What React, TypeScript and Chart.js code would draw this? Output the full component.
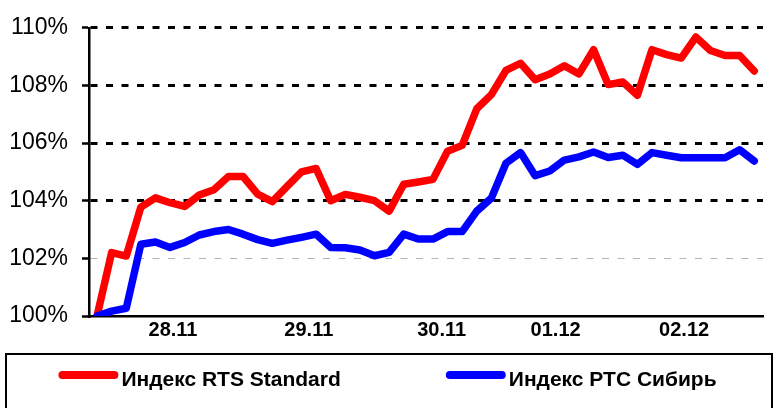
import { useEffect, useRef } from "react";
import { Chart, registerables } from "chart.js";

Chart.register(...registerables);

const FONT = '"Liberation Sans", Arial, sans-serif';

const seriesNames = ["Индекс RTS Standard", "Индекс РТС Сибирь"];
const seriesColors = ["#ff0000", "#0000ff"];

const dateLabels = ["28.11", "29.11", "30.11", "01.12", "02.12"];
const dateLabelPositions = [5.2, 14.5, 23.6, 31.4, 40.2];

const rtsStandard = [
  100.0, 102.2, 102.08, 103.78, 104.1, 103.93, 103.8, 104.2, 104.38, 104.84,
  104.84, 104.23, 103.97, 104.49, 105.0, 105.12, 104.0, 104.22, 104.12, 104.0,
  103.64, 104.57, 104.65, 104.74, 105.72, 105.92, 107.19, 107.68, 108.52, 108.77,
  108.2, 108.4, 108.68, 108.4, 109.24, 108.03, 108.12, 107.66, 109.24, 109.07,
  108.95, 109.68, 109.21, 109.04, 109.04, 108.5,
];

const rtsSiberia = [
  100.0, 100.17, 100.27, 102.49, 102.57, 102.38, 102.55, 102.81, 102.93, 103.0,
  102.84, 102.65, 102.52, 102.63, 102.73, 102.84, 102.38, 102.37, 102.29, 102.09,
  102.21, 102.84, 102.67, 102.67, 102.93, 102.93, 103.64, 104.09, 105.3, 105.67,
  104.87, 105.03, 105.41, 105.52, 105.69, 105.5, 105.58, 105.26, 105.67, 105.58,
  105.49, 105.49, 105.49, 105.49, 105.77, 105.38,
];

const yMin = 100;
const yMax = 110;
const yStep = 2;

const boxLegend = {
  id: "boxLegend",
  afterDraw(chart: any) {
    const ctx = chart.ctx;
    ctx.save();
    ctx.lineWidth = 2;
    ctx.strokeStyle = "#000";
    ctx.strokeRect(6, 354, 766, 80);
    ctx.font = `bold 21px ${FONT}`;
    const sample = 60;
    const gap = 3;
    const between = 105;
    const items = chart.data.datasets.map((ds: any) => ({
      label: ds.label,
      color: ds.borderColor,
      w: sample + gap + ctx.measureText(ds.label).width,
    }));
    const total =
      items.reduce((s: number, it: any) => s + it.w, 0) + between * (items.length - 1);
    let x = (chart.width - total) / 2;
    const yLine = 375;
    const yText = 380;
    items.forEach((it: any) => {
      ctx.strokeStyle = it.color;
      ctx.lineWidth = 8;
      ctx.lineCap = "round";
      ctx.beginPath();
      ctx.moveTo(x + 4, yLine);
      ctx.lineTo(x + sample - 4, yLine);
      ctx.stroke();
      ctx.fillStyle = "#000";
      ctx.textBaseline = "middle";
      ctx.textAlign = "left";
      ctx.fillText(it.label, x + sample + gap, yText);
      x += it.w + between;
    });
    ctx.restore();
  },
};

export default function App() {
  const ref = useRef<HTMLCanvasElement | null>(null);

  useEffect(() => {
    if (!ref.current) return;
    const series = [rtsStandard, rtsSiberia];
    const chart = new Chart(ref.current, {
      type: "line",
      data: {
        datasets: series.map((vals, k) => ({
          label: seriesNames[k],
          data: vals.map((v, i) => ({ x: i, y: v })),
          borderColor: seriesColors[k],
          backgroundColor: seriesColors[k],
          borderWidth: 7.5,
          pointRadius: 0,
          tension: 0,
          borderJoinStyle: "round" as const,
          borderCapStyle: "round" as const,
          order: k === 0 ? 2 : 1,
        })),
      },
      options: {
        responsive: false,
        animation: false,
        devicePixelRatio: 1,
        layout: { padding: { top: 25, right: 12, left: 0, bottom: 0 } },
        plugins: { legend: { display: false }, tooltip: { enabled: false } },
        scales: {
          x: {
            type: "linear",
            min: -0.55,
            max: 45.6,
            bounds: "data",
            afterBuildTicks: (s: any) => {
              s.ticks = dateLabelPositions.map((v) => ({ value: v }));
            },
            afterFit: (s: any) => {
              s.height = 92;
            },
            grid: { display: false, drawTicks: false },
            border: { display: true, color: "#000", width: 2.5 },
            ticks: {
              callback: (_v: any, i: number) => dateLabels[i],
              font: { family: FONT, size: 20, weight: "bold" },
              color: "#000",
              padding: 2,
              maxRotation: 0,
              autoSkip: false,
            },
          },
          y: {
            min: yMin,
            max: yMax,
            afterFit: (s: any) => {
              s.width = 89;
            },
            ticks: {
              stepSize: yStep,
              callback: (v: any) => v + "%",
              font: { family: FONT, size: 23 },
              color: "#000",
              padding: 14,
            },
            grid: {
              color: (c: any) =>
                c.tick && c.tick.value === 100
                  ? "rgba(0,0,0,0)"
                  : c.tick && c.tick.value === 102
                  ? "#b4b4b4"
                  : "#000",
              lineWidth: (c: any) => (c.tick && c.tick.value === 102 ? 1 : 3),
              tickColor: "#000",
              tickLength: 7,
              tickWidth: 2.5,
              tickBorderDash: [],
            },
            border: { display: true, color: "#000", width: 2.5, dash: [7, 8.5] },
          },
        },
      },
      plugins: [boxLegend],
    });
    return () => chart.destroy();
  }, []);

  return (
    <div style={{ position: "fixed", left: 0, top: 0, width: 775, height: 408, background: "#fff" }}>
      <canvas ref={ref} width={775} height={408} />
    </div>
  );
}
